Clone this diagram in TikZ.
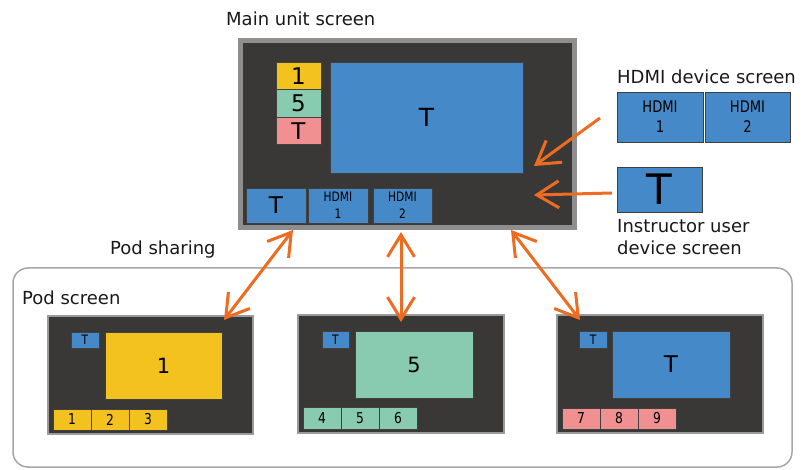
\documentclass[tikz,border=0pt]{standalone}
\usepackage{fontspec}
\setmainfont{DejaVu Sans}
\newfontfamily\cond[FakeStretch=0.82]{DejaVu Sans}
\usetikzlibrary{arrows.meta}
\definecolor{dark}{HTML}{3A3836}
\definecolor{mframe}{HTML}{8E8E8E}
\definecolor{pframe}{HTML}{9A9A9A}
\definecolor{tblue}{HTML}{4689C8}
\definecolor{tyel}{HTML}{F3C21E}
\definecolor{tgreen}{HTML}{88CBB0}
\definecolor{tpink}{HTML}{F09090}
\definecolor{org}{HTML}{EE6C22}
\begin{document}
\begin{tikzpicture}[x=1pt,y=-1pt,
  mainscr/.style={rectangle, fill=dark, draw=mframe, line width=5pt, inner sep=0pt},
  podscr/.style={rectangle, fill=dark, draw=pframe, line width=1.5pt, inner sep=0pt},
  tile/.style={rectangle, draw=black!75, line width=0.8pt, inner sep=0pt, text=black, align=center},
  lbl/.style={anchor=west, inner sep=0pt, text=black!90, font=\fontsize{18}{22}\selectfont},
  tipo/.tip={Straight Barb[length=22pt,width=27pt,line width=3pt]},
  arr/.style={draw=org, line width=3pt, -tipo},
  biarr/.style={draw=org, line width=3pt, tipo-tipo},
  podframe/.style={draw=black!35, line width=1.5pt, rounded corners=15pt}
]
\useasboundingbox (0,0) rectangle (806,470);

% ---------- pod frame ----------
\draw[podframe] (13,268) rectangle (792,467);

% ---------- main unit ----------
\node[mainscr, minimum width=334pt, minimum height=187pt] (main) at (407.5,134) {};
\node[tile, fill=tyel, minimum width=45pt, minimum height=27.5pt, font=\fontsize{23}{23}\selectfont] (m1) at (298.5,76) {1};
\node[tile, fill=tgreen, minimum width=45pt, minimum height=27.5pt, font=\fontsize{23}{23}\selectfont] (m5) at (298.5,103.5) {5};
\node[tile, fill=tpink, minimum width=45pt, minimum height=27.5pt, font=\fontsize{23}{23}\selectfont] (mT) at (298.5,131) {T};
\node[tile, fill=tblue, minimum width=193pt, minimum height=111pt, font=\fontsize{25}{25}\selectfont] (mbig) at (426.5,117.5) {T};
\node[tile, fill=tblue, minimum width=60pt, minimum height=35pt, font=\fontsize{23}{23}\selectfont] (mbT) at (276,205.5) {T};
\node[tile, fill=tblue, minimum width=60pt, minimum height=35pt, font=\cond\fontsize{13}{17}\selectfont] (mh1) at (338,205.5) {HDMI\\1};
\node[tile, fill=tblue, minimum width=59pt, minimum height=35pt, font=\cond\fontsize{13}{17}\selectfont] (mh2) at (402.5,205.5) {HDMI\\2};

% ---------- labels ----------
\node[lbl] (lmain) at (226,19) {Main unit screen};
\node[lbl] (lhdmi) at (617,77) {HDMI device screen};
\node[lbl] (lins1) at (617,226) {Instructor user};
\node[lbl] (lins2) at (617,248) {device screen};
\node[lbl] (lpod) at (110,250) {Pod sharing};
\node[lbl] (lpods) at (22,298) {Pod screen};

% ---------- external devices ----------
\node[tile, fill=tblue, minimum width=86pt, minimum height=50pt, font=\cond\fontsize{16}{20}\selectfont] (dh1) at (660,117) {HDMI\\1};
\node[tile, fill=tblue, minimum width=85pt, minimum height=50pt, font=\cond\fontsize{16}{20}\selectfont] (dh2) at (747.5,117) {HDMI\\2};
\node[tile, fill=tblue, minimum width=85pt, minimum height=45pt, font=\fontsize{42}{42}\selectfont] (dT) at (659.5,189.5) {T};

% ---------- pod screens ----------
\node[podscr, minimum width=205pt, minimum height=118pt] (p1) at (150.5,375) {};
\node[tile, fill=tblue, minimum width=28pt, minimum height=16pt, font=\cond\fontsize{13}{13}\selectfont] (p1T) at (85,340) {T};
\node[tile, fill=tyel, minimum width=117pt, minimum height=67pt, font=\fontsize{21}{21}\selectfont] (p1big) at (163.5,365.5) {1};
\node[tile, fill=tyel, minimum width=38pt, minimum height=21pt, font=\cond\fontsize{15}{15}\selectfont] (p1a) at (72,419.5) {1};
\node[tile, fill=tyel, minimum width=38pt, minimum height=21pt, font=\cond\fontsize{15}{15}\selectfont] (p1b) at (110,419.5) {2};
\node[tile, fill=tyel, minimum width=38pt, minimum height=21pt, font=\cond\fontsize{15}{15}\selectfont] (p1c) at (148,419.5) {3};

\node[podscr, minimum width=206pt, minimum height=118pt] (p2) at (401,374) {};
\node[tile, fill=tblue, minimum width=27pt, minimum height=17pt, font=\cond\fontsize{13}{13}\selectfont] (p2T) at (335.5,339.5) {T};
\node[tile, fill=tgreen, minimum width=118pt, minimum height=67pt, font=\fontsize{21}{21}\selectfont] (p2big) at (414,364.5) {5};
\node[tile, fill=tgreen, minimum width=38pt, minimum height=22pt, font=\cond\fontsize{15}{15}\selectfont] (p2a) at (322,418) {4};
\node[tile, fill=tgreen, minimum width=38pt, minimum height=22pt, font=\cond\fontsize{15}{15}\selectfont] (p2b) at (360,418) {5};
\node[tile, fill=tgreen, minimum width=38pt, minimum height=22pt, font=\cond\fontsize{15}{15}\selectfont] (p2c) at (398,418) {6};

\node[podscr, minimum width=206pt, minimum height=118pt] (p3) at (660,374) {};
\node[tile, fill=tblue, minimum width=28pt, minimum height=17pt, font=\cond\fontsize{13}{13}\selectfont] (p3T) at (593,339.5) {T};
\node[tile, fill=tblue, minimum width=118pt, minimum height=67pt, font=\fontsize{23}{23}\selectfont] (p3big) at (671,364.5) {T};
\node[tile, fill=tpink, minimum width=38pt, minimum height=21pt, font=\cond\fontsize{15}{15}\selectfont] (p3a) at (581,418.5) {7};
\node[tile, fill=tpink, minimum width=38pt, minimum height=21pt, font=\cond\fontsize{15}{15}\selectfont] (p3b) at (619,418.5) {8};
\node[tile, fill=tpink, minimum width=38pt, minimum height=21pt, font=\cond\fontsize{15}{15}\selectfont] (p3c) at (657,418.5) {9};

% ---------- arrows ----------
\coordinate (a1s) at (600,118);
\coordinate (a1e) at (534,166);
\coordinate (a2s) at (612,193);
\coordinate (a2e) at (534,195);
\draw[arr] (a1s) -- (a1e);
\draw[arr] (a2s) -- (a2e);

\coordinate (b1s) at (293,230);
\coordinate (b1e) at (224,320);
\coordinate (b2s) at (401,232);
\coordinate (b2e) at (401,322);
\coordinate (b3s) at (511,230);
\coordinate (b3e) at (580,320);
\draw[biarr] (b1s) -- (b1e);
\draw[biarr] (b2s) -- (b2e);
\draw[biarr] (b3s) -- (b3e);
\end{tikzpicture}
\end{document}
